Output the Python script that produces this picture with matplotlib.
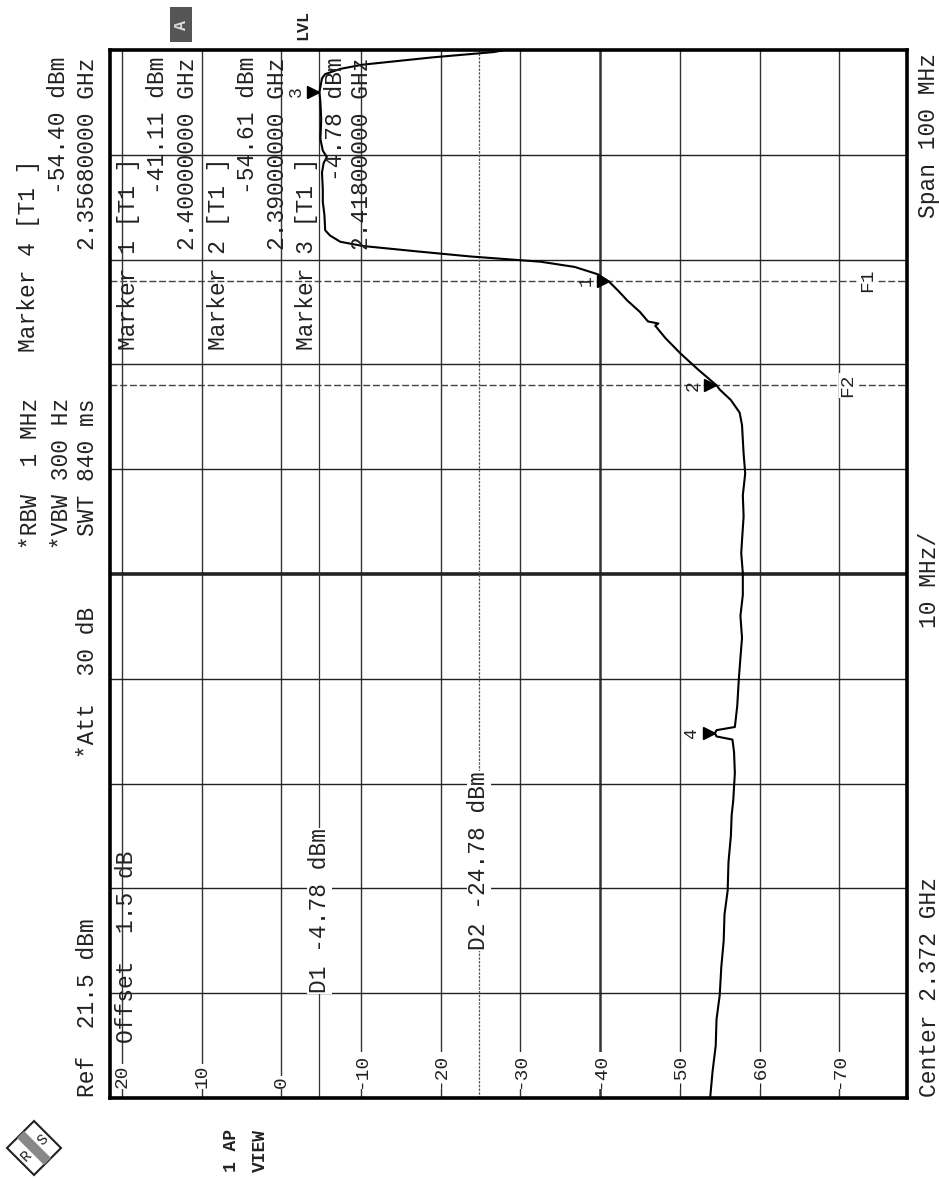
import matplotlib
matplotlib.use("Agg")
import matplotlib.pyplot as plt
from matplotlib.patches import Polygon, Rectangle

# --- analyzer settings / data -------------------------------------------
ref_level = 21.5
bottom_level = -78.5
center_ghz = 2.372
span_ghz = 0.100
grid_levels = [20, 10, 0, -10, -20, -30, -40, -50, -60, -70]
grid_freqs = [2.332, 2.342, 2.352, 2.362, 2.372, 2.382, 2.392, 2.402, 2.412]

# trace (GHz, dBm)
freq = [2.3220, 2.3245, 2.3270, 2.3295, 2.3318, 2.3345, 2.3370, 2.3395, 2.3418, 2.3445,
        2.3470, 2.3490, 2.3504, 2.3530, 2.3550, 2.3562, 2.3565, 2.3568, 2.3571, 2.3574,
        2.3594, 2.3620, 2.3640, 2.3659, 2.3680, 2.3700, 2.3721, 2.3740, 2.3752, 2.3775,
        2.3795, 2.3816, 2.3835, 2.3848, 2.3862, 2.3874, 2.3886, 2.3896, 2.3900, 2.3915,
        2.3931, 2.3945, 2.3957, 2.3959, 2.3961, 2.3970, 2.3981, 2.3990, 2.3999, 2.4006,
        2.4013, 2.4018, 2.4023, 2.4028, 2.4033, 2.4037, 2.4043, 2.4048, 2.4063, 2.4075,
        2.4087, 2.4103, 2.4112, 2.4118, 2.4124, 2.4135, 2.4154, 2.4170, 2.4180, 2.4193,
        2.4197, 2.4202, 2.4206, 2.4213, 2.4218, 2.4220]
level = [-53.8, -54.1, -54.5, -54.6, -55.0, -55.2, -55.5, -55.6, -56.0, -56.1,
         -56.4, -56.5, -56.7, -56.9, -56.8, -56.6, -54.6, -54.4, -54.6, -56.9,
         -57.2, -57.4, -57.6, -57.8, -57.6, -57.9, -57.9, -57.7, -57.8, -58.0,
         -57.9, -58.2, -58.0, -57.9, -57.8, -57.5, -56.4, -55.0, -54.61, -52.3,
         -50.0, -48.2, -46.9, -47.3, -46.0, -45.0, -43.4, -42.3, -41.11, -39.7,
         -36.8, -32.5, -23.7, -16.8, -10.2, -7.4, -6.1, -5.5, -5.4, -5.2,
         -5.2, -5.1, -5.3, -5.7, -5.2, -4.9, -5.0, -4.9, -4.78, -5.1,
         -5.5, -7.4, -10.2, -19.0, -26.6, -28.1]

marker_ids = [1, 2, 3, 4]
marker_freqs = [2.400, 2.390, 2.418, 2.3568]
marker_levels = [-41.11, -54.61, -4.78, -54.40]

d1_level = -4.78
d2_level = -24.78
f1_freq = 2.400
f2_freq = 2.390

MONO = ["Liberation Mono", "DejaVu Sans Mono"]
W, H = 940, 1181

fig = plt.figure(figsize=(W / 100, H / 100), dpi=100)
fig.patch.set_facecolor("white")

# frame in pixels: x 110..907, y 50..1098
ax = fig.add_axes([110 / W, 1 - 1098 / H, 797 / W, 1048 / H])
ax.set_xlim(ref_level, bottom_level)
ax.set_ylim(center_ghz - span_ghz / 2, center_ghz + span_ghz / 2)
ax.set_xticks([])
ax.set_yticks([])
for sp in ax.spines.values():
    sp.set_linewidth(2.6)
    sp.set_color("black")


def P(x, y):
    return x / W, 1 - y / H


def ftext(x, y, s, ha="left", size=16.5, **kw):
    fig.text(*P(x, y), s, rotation=90, rotation_mode="anchor", ha=ha, va="center",
             family=MONO, fontsize=size, color="#222222", **kw)


def atext(x, y, s, transform, ha="left", size=16.5, box=True):
    kw = dict(bbox=dict(fc="white", ec="none", pad=0.5)) if box else {}
    ax.text(x, y, s, transform=transform, rotation=90, rotation_mode="anchor", ha=ha,
            va="center", family=MONO, fontsize=size, color="#222222", zorder=3, **kw)


# grid
for v in grid_levels:
    ax.axvline(v, color="#333333", lw=1.8 if v == -40 else 1.0, zorder=1)
for f in grid_freqs:
    ax.axhline(f, color="#222222", lw=2.6 if abs(f - center_ghz) < 1e-6 else 1.0, zorder=1)

# display lines
ax.axvline(d1_level, color="#333333", lw=0.9, zorder=1)
ax.axvline(d2_level, color="#555555", lw=0.9, ls=(0, (2, 1)), zorder=1)
ax.axhline(f1_freq, color="#444444", lw=1.0, ls=(0, (5, 2)), zorder=1)
ax.axhline(f2_freq, color="#444444", lw=1.0, ls=(0, (5, 2)), zorder=1)

# trace
ax.plot(level, freq, color="black", lw=1.5, zorder=4)

# markers
for n, f, v in zip(marker_ids, marker_freqs, marker_levels):
    ax.plot(v + 0.8, f, marker=">", ms=8, color="black", zorder=5)
    atext(v + 2.9, f, str(n), ax.transData, ha="center", size=13, box=False)

# level tick labels inside plot
xa = ax.get_xaxis_transform()
for v in grid_levels:
    atext(v, 0.0095, str(v), xa, size=14)

atext(d1_level, 0.100, f"D1 {d1_level:.2f} dBm", xa)
atext(d2_level, 0.141, f"D2 {d2_level:.2f} dBm", xa)
atext(0.021, 0.0525, "Offset  1.5 dB", ax.transAxes, box=False)

ya = ax.get_yaxis_transform()
atext(0.950, f1_freq, "F1", ya, ha="center", size=14)
atext(0.926, f2_freq, "F2", ya, ha="center", size=14)

# marker table inside the frame
rows_x = [(128, 157, 187), (218, 248, 277), (306, 336, 362)]
for (xa0, xa1, xa2), n, f, v in zip(rows_x, marker_ids[:3], marker_freqs[:3], marker_levels[:3]):
    ftext(xa0, 350, f"Marker {n} [T1 ]")
    ftext(xa1, 57, f"{v:.2f} dBm", ha="right")
    ftext(xa2, 57, f"{f:.8f} GHz", ha="right")

# header left of the frame
ftext(29, 352, f"Marker {marker_ids[3]} [T1 ]")
ftext(59, 57, f"{marker_levels[3]:.2f} dBm", ha="right")
ftext(88, 57, f"{marker_freqs[3]:.8f} GHz", ha="right")

ftext(31, 398, "*RBW  1 MHz", ha="right")
ftext(62, 398, "*VBW 300 Hz", ha="right")
ftext(88, 398, "SWT 840 ms", ha="right")
ftext(88, 607, "*Att  30 dB", ha="right")
ftext(88, 1097, f"Ref  {ref_level} dBm")

# footer right of the frame
ftext(929, 1097, f"Center {center_ghz} GHz")
ftext(929, 580, "10 MHz/", ha="center")
ftext(928, 53, f"Span {span_ghz * 1000:.0f} MHz", ha="right")

# status labels
fig.patches.append(Rectangle(P(170, 42), 22 / W, 35 / H, transform=fig.transFigure,
                             fc="#555555", ec="none"))
ftext(181, 25, "A", ha="center", size=12, weight="bold")
fig.texts[-1].set_color("#dddddd")
ftext(303, 25, "LVL", ha="center", size=12, weight="bold")
ftext(232, 1150, "1 AP", ha="center", size=13, weight="bold")
ftext(260, 1150, "VIEW", ha="center", size=13, weight="bold")

# R&S logo
cx, cy, r = 34, 1148, 27
fig.patches.append(Polygon([P(cx - r, cy), P(cx, cy - r), P(cx + r, cy), P(cx, cy + r)],
                           closed=True, transform=fig.transFigure, fc="white",
                           ec="#222222", lw=1.5))
fig.patches.append(Polygon([P(cx - 17, cy - 10), P(cx - 10, cy - 17), P(cx + 17, cy + 10),
                            P(cx + 10, cy + 17)], closed=True, transform=fig.transFigure,
                           fc="#888888", ec="none"))
fig.text(*P(cx - 8, cy + 8), "R", rotation=45, ha="center", va="center",
         family=MONO, fontsize=11, color="#222222")
fig.text(*P(cx + 9, cy - 8), "S", rotation=45, ha="center", va="center",
         family=MONO, fontsize=11, color="#222222")

fig.savefig("out.png", dpi=100, facecolor="white")
